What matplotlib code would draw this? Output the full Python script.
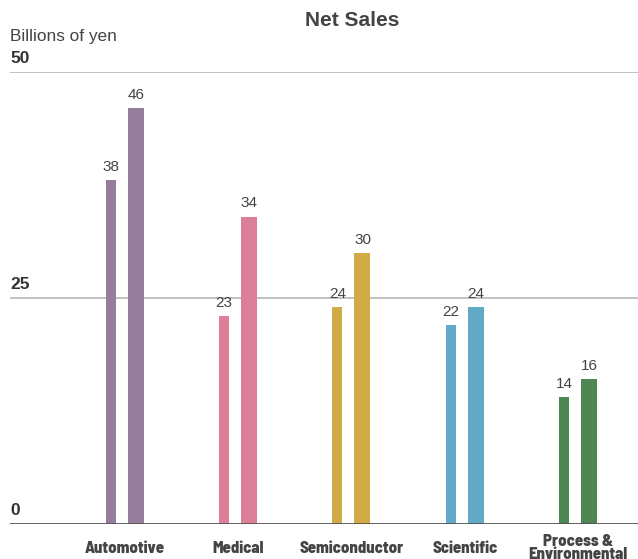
import matplotlib
matplotlib.use("Agg")
import matplotlib.pyplot as plt
import numpy as np

# Net sales by segment, billions of yen (previous year, current year)
categories = ["Automotive", "Medical", "Semiconductor", "Scientific", "Process &\nEnvironmental"]
prev_year = [38, 23, 24, 22, 14]
curr_year = [46, 34, 30, 24, 16]
colors = ["#957E9B", "#DD7F98", "#D1AB47", "#62A8C7", "#4E8753"]
yticks = [0, 25, 50]

narrow = ["Barlow Semi Condensed", "Barlow Condensed", "DejaVu Sans"]
plain = ["Liberation Sans", "DejaVu Sans"]
text_color = "#444444"

fig = plt.figure(figsize=(6.38, 5.59), dpi=100)
ax = fig.add_axes([10 / 638, 35 / 559, 628 / 638, 452 / 559])

x = np.arange(len(categories))
w1, w2 = 0.088, 0.141
off1, off2 = -0.124, 0.097

for yt in yticks[1:]:
    ax.axhline(yt, color="#B0B0B0", lw=1.1, zorder=1)
ax.axhline(0, color="#555555", lw=1.3, zorder=3)

b1 = ax.bar(x + off1, prev_year, width=w1, color=colors, zorder=2)
b2 = ax.bar(x + off2, curr_year, width=w2, color=colors, zorder=2)

for bars, vals in ((b1, prev_year), (b2, curr_year)):
    for rect, v in zip(bars, vals):
        ax.annotate(f"{v}", (rect.get_x() + rect.get_width() / 2, v),
                    xytext=(0, 4.5), textcoords="offset points",
                    ha="center", va="bottom", fontsize=11,
                    color=text_color, family=plain)

for xi, name in zip(x, categories):
    ax.annotate(name, (xi, 0), xytext=(0, -17.5), textcoords="offset points",
                ha="center", va="center", fontsize=12, fontweight=800,
                color=text_color, family=narrow, linespacing=0.85,
                annotation_clip=False)

for yt in yticks:
    ax.annotate(f"{yt}", (0, yt), xycoords=("axes fraction", "data"),
                xytext=(0, 4.5), textcoords="offset points",
                ha="left", va="bottom", fontsize=12.5, fontweight="bold",
                color="#333333", family=plain)

ax.set_xlim(-1.0155, 4.53)
ax.set_ylim(0, 50)
ax.axis("off")

fig.text(10 / 638, 1 - 37 / 559, "Billions of yen", ha="left", va="center",
         fontsize=12.4, color=text_color, family=plain)
fig.text(352 / 638, 1 - 20 / 559, "Net Sales", ha="center", va="center",
         fontsize=15, fontweight="bold", color=text_color, family=plain)

fig.savefig("out.png", dpi=100, facecolor="white")
